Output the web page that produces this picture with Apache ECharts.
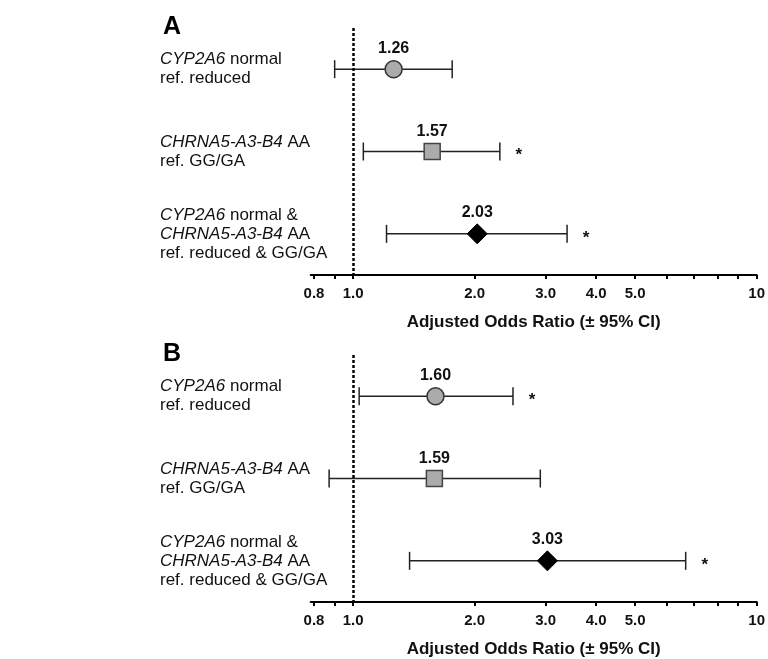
<!DOCTYPE html>
<html><head><meta charset="utf-8">
<script src="https://cdn.jsdelivr.net/npm/echarts@6/dist/echarts.min.js"></script>
<style>html,body{margin:0;padding:0;background:#fff}#c{width:768px;height:659px}</style>
</head><body><div id="c"></div>
<script>
// ---- data ----
const categories = ['CYP2A6 normal\nref. reduced', 'CHRNA5-A3-B4 AA\nref. GG/GA', 'CYP2A6 normal &\nCHRNA5-A3-B4 AA\nref. reduced & GG/GA'];
const italicTerms = ['CYP2A6', 'CHRNA5-A3-B4'];
const panelTitles = ['A', 'B'];
const orA = [1.26, 1.57, 2.03];
const loA = [0.90, 1.06, 1.21];
const hiA = [1.76, 2.31, 3.39];
const sigA = [false, true, true];
const orB = [1.60, 1.59, 3.03];
const loB = [1.035, 0.872, 1.38];
const hiB = [2.49, 2.91, 6.67];
const sigB = [true, false, true];
const tickValues = [0.8, 0.9, 1, 2, 3, 4, 5, 6, 7, 8, 9, 10];
const tickLabelValues = [0.8, 1, 2, 3, 4, 5, 10];
const tickLabels = ['0.8', '1.0', '2.0', '3.0', '4.0', '5.0', '10'];
const axisMin = 0.785, axisMax = 10;
const refValue = 1;
const xTitle = 'Adjusted Odds Ratio (\u00B1 95% CI)';

// ---- styles ----
const FONT = "'Liberation Sans', Arial, sans-serif";
const TXT = '#111';
const markerStyles = [
  { symbol: 'circle', symbolSize: 17, itemStyle: { color: '#ababab', borderColor: '#333', borderWidth: 1.5, opacity: 1 } },
  { symbol: 'rect', symbolSize: 16, itemStyle: { color: '#ababab', borderColor: '#444', borderWidth: 1.5, opacity: 1 } },
  { symbol: 'diamond', symbolSize: 20, itemStyle: { color: '#000', borderColor: '#000', borderWidth: 1, opacity: 1 } }
];
const L = Math.log10;

function richLabel(s) {
  return s.split('\n').map(line => {
    let out = '';
    let rest = line;
    while (rest.length) {
      let found = null, pos = Infinity;
      italicTerms.forEach(t => { const p = rest.indexOf(t); if (p >= 0 && p < pos) { pos = p; found = t; } });
      if (!found) { out += '{n|' + rest + '}'; break; }
      if (pos > 0) out += '{n|' + rest.slice(0, pos) + '}';
      out += '{i|' + found + '}';
      rest = rest.slice(pos + found.length);
    }
    return out;
  }).join('\n');
}

const grids = [
  { left: 310.7, width: 447, top: 28, height: 247 },
  { left: 310.7, width: 447, top: 355, height: 247 }
];
const panels = [
  { or: orA, lo: loA, hi: hiA, sig: sigA },
  { or: orB, lo: loB, hi: hiB, sig: sigB }
];

const xAxes = grids.map((g, i) => ({
  type: 'value', gridIndex: i, min: L(axisMin), max: L(axisMax),
  axisLine: { show: true, lineStyle: { color: '#000', width: 2 } },
  axisTick: { show: true, length: 4, lineStyle: { color: '#000', width: 2 }, customValues: tickValues.map(L) },
  axisLabel: {
    customValues: tickLabelValues.map(L), margin: 11,
    fontFamily: FONT, fontWeight: 'bold', fontSize: 15, color: TXT,
    formatter: v => { let k = 0, d = Infinity; tickLabelValues.forEach((t, j) => { const dd = Math.abs(L(t) - v); if (dd < d) { d = dd; k = j; } }); return tickLabels[k]; }
  },
  splitLine: { show: false },
  name: xTitle, nameLocation: 'middle', nameGap: 39,
  nameTextStyle: { fontFamily: FONT, fontWeight: 'bold', fontSize: 17, color: TXT }
}));

const yAxes = grids.map((g, i) => ({
  type: 'category', gridIndex: i, data: categories, inverse: true,
  axisLine: { show: false }, axisTick: { show: false }, splitLine: { show: false },
  axisLabel: {
    align: 'left', margin: 150.7, formatter: v => richLabel(v),
    rich: {
      n: { fontFamily: FONT, fontSize: 17, color: TXT, lineHeight: 19 },
      i: { fontFamily: FONT, fontSize: 17, fontStyle: 'italic', color: TXT, lineHeight: 19 }
    }
  }
}));

const series = [];
panels.forEach((p, i) => {
  series.push({
    type: 'custom', xAxisIndex: i, yAxisIndex: i, silent: true, z: 2,
    data: p.or.map((_, k) => [L(p.lo[k]), L(p.hi[k]), k, p.sig[k] ? 1 : 0]),
    renderItem: (params, api) => {
      const a = api.coord([api.value(0), api.value(2)]);
      const b = api.coord([api.value(1), api.value(2)]);
      const st = { stroke: '#222', lineWidth: 1.5 };
      const ch = [
        { type: 'line', shape: { x1: a[0], y1: a[1], x2: b[0], y2: b[1] }, style: st },
        { type: 'line', shape: { x1: a[0], y1: a[1] - 9, x2: a[0], y2: a[1] + 9 }, style: st },
        { type: 'line', shape: { x1: b[0], y1: b[1] - 9, x2: b[0], y2: b[1] + 9 }, style: st }
      ];
      if (api.value(3)) {
        ch.push({ type: 'text', style: { x: b[0] + 19, y: b[1] + 4, text: '*', fontFamily: FONT, fontWeight: 'bold', fontSize: 17, fill: TXT, align: 'center', verticalAlign: 'middle' } });
      }
      return { type: 'group', children: ch };
    }
  });
  series.push({
    type: 'scatter', xAxisIndex: i, yAxisIndex: i, z: 3,
    emphasis: { disabled: true },
    data: p.or.map((v, k) => Object.assign({ value: [L(v), k] }, markerStyles[k])),
    label: {
      show: true, position: 'top', distance: 3,
      fontFamily: FONT, fontWeight: 'bold', fontSize: 16, color: TXT,
      formatter: prm => Math.pow(10, prm.value[0]).toFixed(2)
    },
    markLine: {
      silent: true, symbol: 'none', label: { show: false },
      lineStyle: { color: '#000', width: 2.5, type: [3, 2], opacity: 1 },
      data: [{ xAxis: L(refValue) }]
    }
  });
});

const chart = echarts.init(document.getElementById('c'), null, { renderer: 'canvas' });
chart.setOption({
  animation: false,
  backgroundColor: '#fff',
  title: panelTitles.map((t, i) => ({ text: t, left: 158, top: i === 0 ? 10 : 337, textStyle: { fontFamily: FONT, fontWeight: 'bold', fontSize: 25, color: '#000' } })),
  grid: grids,
  xAxis: xAxes,
  yAxis: yAxes,
  series: series
});
</script></body></html>
